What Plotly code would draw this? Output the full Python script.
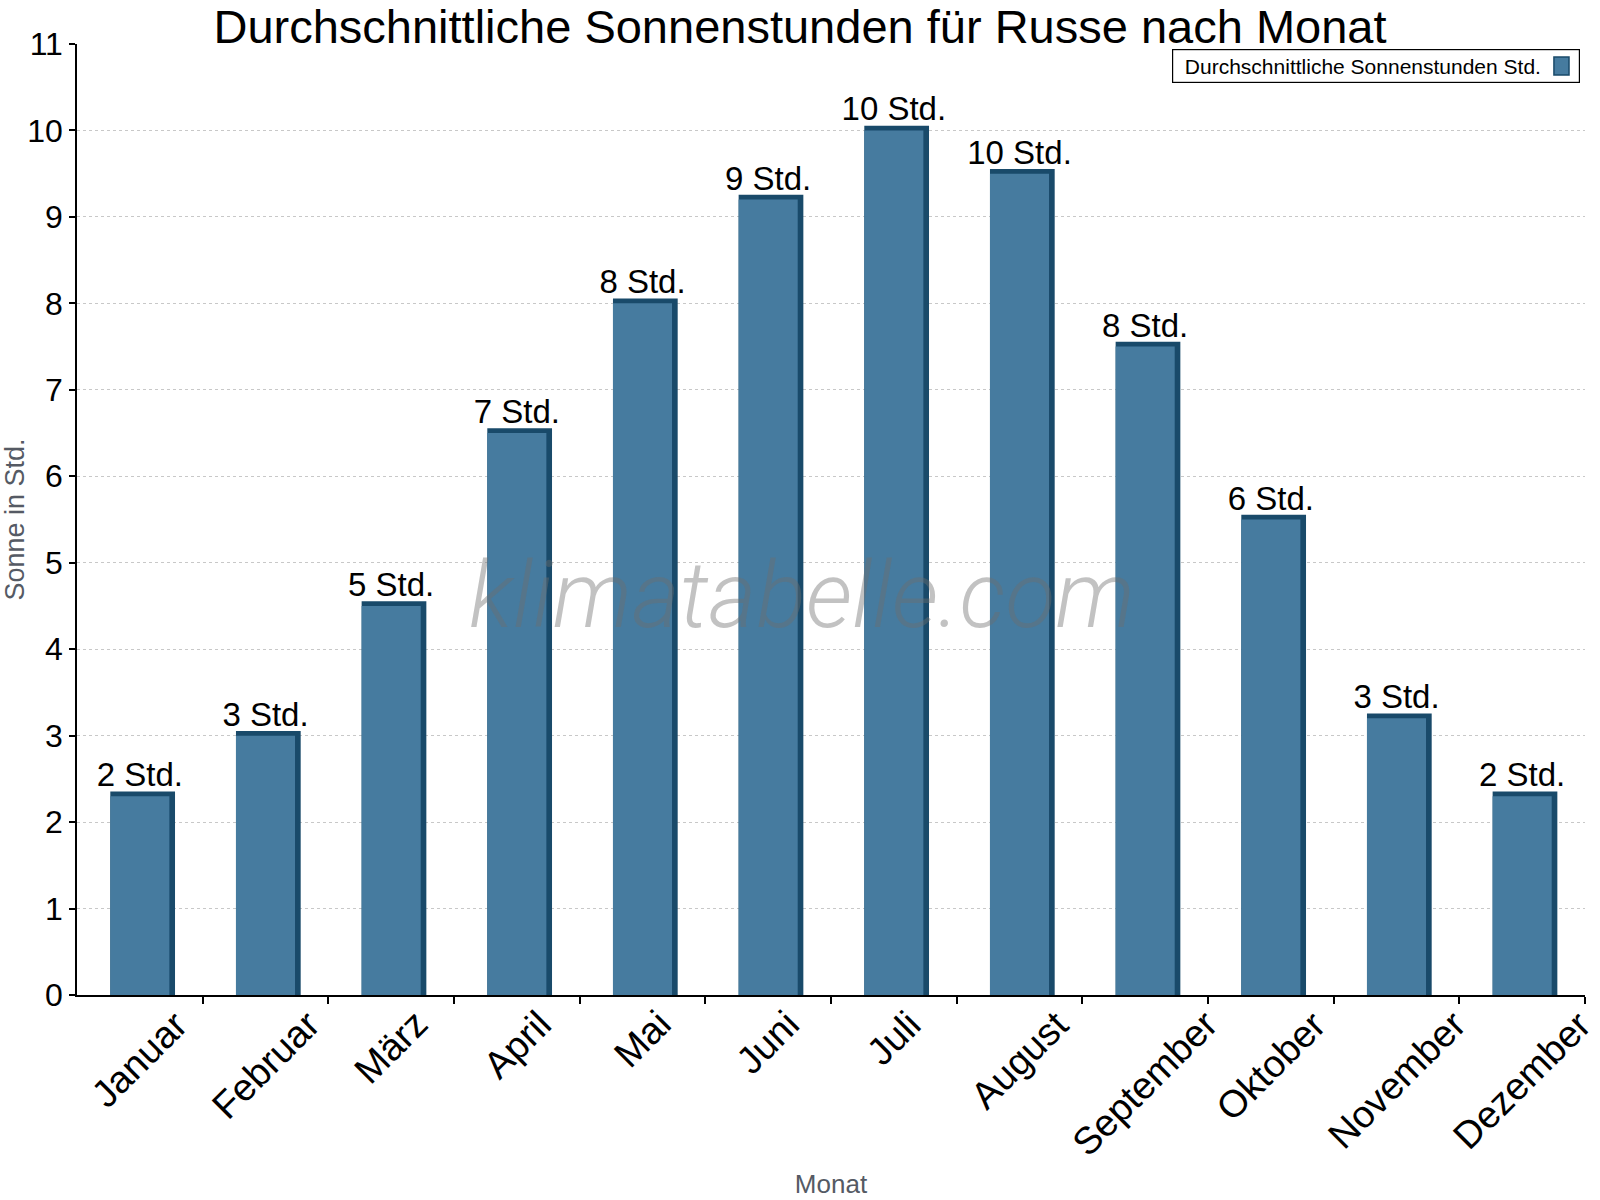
import numpy as np
import plotly.graph_objects as go

# Monatswerte (Sonnenstunden pro Tag)
months = ["Januar", "Februar", "März", "April", "Mai", "Juni", "Juli",
          "August", "September", "Oktober", "November", "Dezember"]
sun_hours = [2.3, 3.0, 4.5, 6.5, 8.0, 9.2, 10.0, 9.5, 7.5, 5.5, 3.2, 2.3]
bar_labels = ["2 Std.", "3 Std.", "5 Std.", "7 Std.", "8 Std.", "9 Std.",
              "10 Std.", "10 Std.", "8 Std.", "6 Std.", "3 Std.", "2 Std."]

title = "Durchschnittliche Sonnenstunden für Russe nach Monat"
legend_name = "Durchschnittliche Sonnenstunden Std."

FRONT = "rgb(70,123,159)"
SIDE = "rgb(25,74,106)"
FONT = "Liberation Sans, Arial, sans-serif"

x = np.arange(len(months))
w = 0.47      # bar width (category units)
dx = 0.045    # depth to the right
dy = 0.055    # depth upwards

fig = go.Figure()

# dark "3D" side/top face behind the front face
fig.add_trace(go.Bar(
    x=x, y=np.array(sun_hours) + dy,
    width=w + dx, offset=-w / 2,
    marker=dict(color=SIDE, line=dict(width=0)),
    showlegend=False, hoverinfo="skip",
))

# front face
fig.add_trace(go.Bar(
    x=x, y=sun_hours,
    width=w, offset=-w / 2,
    marker=dict(color=FRONT, line=dict(width=0)),
    text=bar_labels, textposition="outside", constraintext="none",
    textfont=dict(size=33, color="black", family=FONT),
    cliponaxis=False,
    name=legend_name, showlegend=False,
))

fig.update_layout(
    width=1600, height=1200,
    barmode="overlay",
    paper_bgcolor="white", plot_bgcolor="white",
    margin=dict(l=77, r=15, t=44, b=205),
    font=dict(family=FONT, color="black"),
    title=dict(text=title, x=0.5, xanchor="center", y=0.992, yanchor="top",
               pad=dict(t=0), font=dict(size=47, color="black")),
    showlegend=False,
)

fig.update_xaxes(
    range=[-0.5, 11.5],
    tickmode="array", tickvals=x, ticktext=months,
    showticklabels=False, ticks="",
    showline=True, linecolor="black", linewidth=1.5,
    showgrid=False, zeroline=False,
    minor=dict(tickvals=np.arange(0.5, 12, 1.0), ticks="outside",
               ticklen=7, tickcolor="black", tickwidth=1.5, showgrid=False),
    title=dict(text="Monat", standoff=179,
               font=dict(size=26, color="rgb(85,90,100)")),
    automargin=False,
)

# month labels, rotated about their centre like in the original
for xi, m in zip(x, months):
    fig.add_annotation(
        x=xi, xref="x", y=0, yref="paper",
        text=m, textangle=-45, showarrow=False,
        xanchor="center", yanchor="top", yshift=-5,
        font=dict(size=38, color="black", family=FONT),
    )

fig.update_yaxes(
    range=[0, 11], dtick=1,
    ticks="outside", ticklen=6, tickcolor="black", tickwidth=1.5,
    tickfont=dict(size=32, color="black"),
    showline=True, linecolor="black", linewidth=1.5,
    showgrid=True, gridcolor="rgb(200,200,200)", griddash="dot", gridwidth=1,
    zeroline=False,
    title=dict(text="Sonne in Std.", standoff=7,
               font=dict(size=27, color="rgb(85,90,100)")),
    automargin=False,
)

# legend box (text with the colour key on its right)
fig.add_annotation(
    xref="paper", yref="paper", x=0.9967, y=0.9947,
    xanchor="right", yanchor="top",
    text="&nbsp;&nbsp;" + legend_name, align="left",
    width=406, height=32,
    showarrow=False, font=dict(size=21, color="black"),
    bordercolor="black", borderwidth=1.2, borderpad=0,
    bgcolor="rgba(0,0,0,0)",
)
fig.add_shape(
    type="rect", xref="paper", yref="paper",
    x0=0.9794, x1=0.9894, y0=0.9674, y1=0.9863,
    fillcolor=FRONT, line=dict(color=SIDE, width=1.5),
)

# watermark
fig.add_annotation(
    xref="paper", yref="paper", x=0.481, y=0.42,
    text="klimatabelle.com", showarrow=False,
    font=dict(family="Roboto", size=92, style="italic", weight=300,
              color="rgba(110,110,110,0.42)"),
)

fig.write_html("out.html", config={"displayModeBar": False},
               post_script="document.body.style.margin='0';")
